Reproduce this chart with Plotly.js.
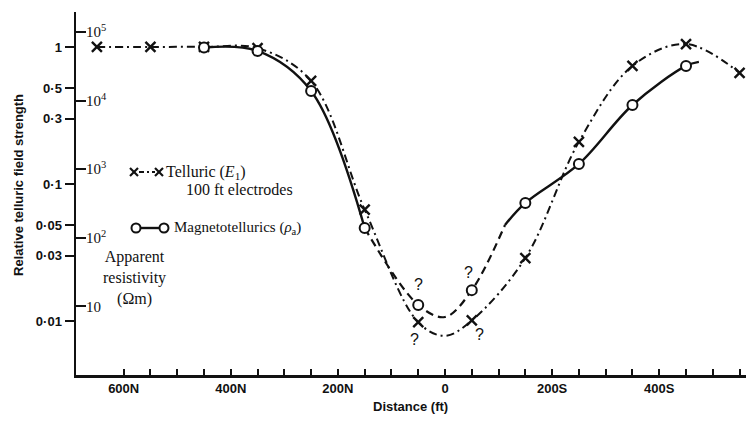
<!DOCTYPE html>
<html>
<head>
<meta charset="utf-8">
<script src="https://cdn.plot.ly/plotly-3.0.1.min.js"></script>
<style>html,body{margin:0;padding:0;background:#fff;}#chart{width:746px;height:447px;}</style>
</head>
<body>
<div id="chart"></div>
<script>
// ---- Data (distance in ft: negative = N, positive = S) ----
const telDistance = [-650, -550, -450, -350, -250, -150, -50, 50, 150, 250, 350, 450, 550];
const telStrength = [1.0, 1.0, 1.0, 0.98, 0.565, 0.065, 0.0098, 0.0101, 0.0288, 0.203, 0.727, 1.05, 0.646];

const mtDistance = [-450, -350, -250, -150, -50, 50, 150, 250, 350, 450];
const mtStrength = [0.99, 0.935, 0.477, 0.0477, 0.0131, 0.0168, 0.0727, 0.14, 0.377, 0.727];

// points
const telCurveX = [-650, -550, -450, -350, -250, -150, -50, 0, 50, 150, 250, 350, 450, 550];
const telCurveY = [1.0, 1.0, 1.0, 0.98, 0.565, 0.065, 0.0098, 0.0078, 0.0101, 0.0288, 0.203, 0.727, 1.05, 0.646];
const mtSolidLeftX = [-450, -350, -250, -150];
const mtSolidLeftY = [0.99, 0.935, 0.477, 0.0477];
const mtDashedX = [-150, -50, 0, 50, 112];
const mtDashedY = [0.0477, 0.0131, 0.0107, 0.0168, 0.0502];
const mtSolidRightX = [112, 150, 250, 350, 450, 474];
const mtSolidRightY = [0.0502, 0.0727, 0.14, 0.377, 0.727, 0.778];

// axis ticks
const xTickVals = [-600, -400, -200, 0, 200, 400];
const xTickText = ['600N', '400N', '200N', '0', '200S', '400S'];
const yTickVals = [1, 0.5, 0.3, 0.1, 0.05, 0.03, 0.01];
const yTickText = ['1', '0·5', '0·3', '0·1', '0·05', '0·03', '0·01'];
const rhoTickVals = [1e5, 1e4, 1e3, 1e2, 10];
const rhoTickText = ['10<sup>5</sup>', '10<sup>4</sup>', '10<sup>3</sup>', '10<sup>2</sup>', '10'];

// "?" marks next to the doubtful points: [series, index, xshift, yshift]
const queryMarks = [['mt', 4, 0, 20], ['tel', 6, -4, -17], ['mt', 5, -3, 18], ['tel', 7, 8, -14]];

// ---- styling ----
const INK = '#111111';
const SANS = 'Liberation Sans, Arial, sans-serif';
const SERIF = 'Liberation Serif, Times New Roman, serif';
const telDash = '8px,4px,2px,4px';

const traces = [
  {x: telCurveX, y: telCurveY, mode: 'lines', line: {color: INK, width: 2, dash: telDash, shape: 'spline', smoothing: 1}, hoverinfo: 'skip'},
  {x: mtSolidLeftX, y: mtSolidLeftY, mode: 'lines', line: {color: INK, width: 2.4, shape: 'spline', smoothing: 1}, hoverinfo: 'skip'},
  {x: mtDashedX, y: mtDashedY, mode: 'lines', line: {color: INK, width: 2.2, dash: '8px,5px', shape: 'spline', smoothing: 1}, hoverinfo: 'skip'},
  {x: mtSolidRightX, y: mtSolidRightY, mode: 'lines', line: {color: INK, width: 2.4, shape: 'spline', smoothing: 1}, hoverinfo: 'skip'},
  {x: telDistance, y: telStrength, mode: 'markers', marker: {symbol: 'x-thin-open', size: 10, color: INK, line: {color: INK, width: 2.4}}, name: 'Telluric'},
  {x: mtDistance, y: mtStrength, mode: 'markers', marker: {symbol: 'circle', size: 10, color: '#ffffff', line: {color: INK, width: 2}}, name: 'MT'}
];

// pixel -> paper helpers for decorations (plot area: x 76..746, y 12..375)
const PX = p => (p - 76) / 670;
const PY = p => (375 - p) / 363;

const annotations = [
  {xref: 'paper', yref: 'paper', x: PX(410), y: PY(406), text: 'Distance (ft)', showarrow: false, xanchor: 'center', yanchor: 'middle', font: {family: SANS, size: 13, color: INK, weight: 'bold'}},
  {xref: 'paper', yref: 'paper', x: PX(18), y: PY(185), text: 'Relative telluric field strength', textangle: -90, showarrow: false, xanchor: 'center', yanchor: 'middle', font: {family: SANS, size: 13, color: INK, weight: 'bold'}},
  {xref: 'paper', yref: 'paper', x: PX(164), y: PY(172), text: 'Telluric (<i>E</i><sub>1</sub>)', showarrow: false, xanchor: 'left', yanchor: 'middle', font: {family: SERIF, size: 16, color: INK}},
  {xref: 'paper', yref: 'paper', x: PX(184), y: PY(190), text: '100 ft electrodes', showarrow: false, xanchor: 'left', yanchor: 'middle', font: {family: SERIF, size: 16, color: INK}},
  {xref: 'paper', yref: 'paper', x: PX(172), y: PY(228), text: 'Magnetotellurics (<i>ρ</i><sub>a</sub>)', showarrow: false, xanchor: 'left', yanchor: 'middle', font: {family: SERIF, size: 15, color: INK}},
  {xref: 'paper', yref: 'paper', x: PX(134), y: PY(278), text: 'Apparent<br>resistivity<br>(Ωm)', showarrow: false, xanchor: 'center', yanchor: 'middle', align: 'center', font: {family: SERIF, size: 16, color: INK}}
];
queryMarks.forEach(([s, i, dx, dy]) => {
  const xs = s === 'mt' ? mtDistance : telDistance;
  const ys = s === 'mt' ? mtStrength : telStrength;
  annotations.push({x: xs[i], y: Math.log10(ys[i]), xref: 'x', yref: 'y', text: '?', showarrow: false, xshift: dx, yshift: dy, font: {family: SANS, size: 16, color: INK}});
});

const shapes = [];
// legend sample 1: x - · - x
shapes.push({type: 'line', xref: 'paper', yref: 'paper', x0: PX(139), x1: PX(155), y0: PY(172), y1: PY(172), line: {color: INK, width: 2, dash: '5px,3px,2px,3px'}});
[134, 159].forEach(cx => {
  shapes.push({type: 'line', xref: 'paper', yref: 'paper', x0: PX(cx - 4), x1: PX(cx + 4), y0: PY(168), y1: PY(176), line: {color: INK, width: 2.2}});
  shapes.push({type: 'line', xref: 'paper', yref: 'paper', x0: PX(cx - 4), x1: PX(cx + 4), y0: PY(176), y1: PY(168), line: {color: INK, width: 2.2}});
});
// legend sample 2: o---o
shapes.push({type: 'line', xref: 'paper', yref: 'paper', x0: PX(140), x1: PX(160), y0: PY(228), y1: PY(228), line: {color: INK, width: 2.4}});
[136, 164].forEach(cx => {
  shapes.push({type: 'circle', xref: 'paper', yref: 'paper', x0: PX(cx - 4.5), x1: PX(cx + 4.5), y0: PY(232.5), y1: PY(223.5), fillcolor: '#ffffff', line: {color: INK, width: 2}});
});

const layout = {
  width: 746, height: 447,
  margin: {l: 76, r: 0, t: 12, b: 72, pad: 0},
  paper_bgcolor: '#ffffff', plot_bgcolor: '#ffffff',
  showlegend: false,
  xaxis: {
    range: [-689, 562], showgrid: false, zeroline: false,
    showline: true, linecolor: INK, linewidth: 2.5,
    tickvals: xTickVals, ticktext: xTickText,
    ticks: 'inside', ticklen: 6, tickwidth: 2, tickcolor: INK,
    minor: {tick0: 0, dtick: 50, ticks: 'inside', ticklen: 6, tickwidth: 2, tickcolor: INK, showgrid: false},
    tickfont: {family: SANS, size: 13, color: INK, weight: 'bold'}
  },
  yaxis: {
    type: 'log', range: [-2.394, 0.255], showgrid: false, zeroline: false,
    showline: true, linecolor: INK, linewidth: 2.5,
    tickvals: yTickVals, ticktext: yTickText,
    ticks: 'outside', ticklen: 9, tickwidth: 2, tickcolor: INK,
    tickfont: {family: SANS, size: 13, color: INK, weight: 'bold'}
  },
  yaxis2: {
    type: 'log', range: [0, 5.292], overlaying: 'y', anchor: 'x', side: 'left',
    showgrid: false, zeroline: false, showline: false,
    tickvals: rhoTickVals, ticktext: rhoTickText,
    ticks: 'inside', ticklen: 10, tickwidth: 2, tickcolor: INK,
    ticklabelposition: 'inside',
    tickfont: {family: SERIF, size: 15, color: INK}
  },
  annotations: annotations,
  shapes: shapes
};

// invisible trace so yaxis2 is drawn
traces.push({x: [0], y: [100], yaxis: 'y2', mode: 'markers', marker: {opacity: 0}, hoverinfo: 'skip'});

Plotly.newPlot('chart', traces, layout, {staticPlot: true, displayModeBar: false});
</script>
</body>
</html>
